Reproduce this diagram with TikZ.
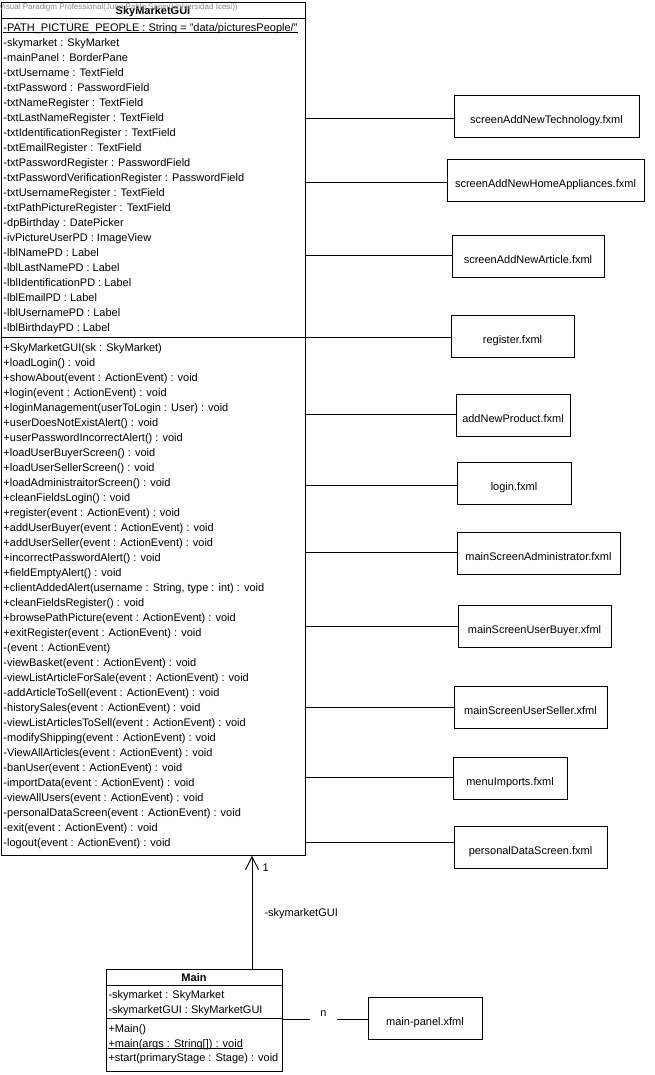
\documentclass[tikz,border=0pt]{standalone}
\usepackage{fontspec}
\setmainfont{Liberation Sans}
\usetikzlibrary{arrows.meta}
\newcommand{\umlsize}{\fontsize{8.25pt}{11.25pt}\selectfont}
\newcommand{\marksize}{\fontsize{6pt}{7pt}\selectfont}
\definecolor{markgray}{RGB}{140,140,140}

\begin{document}
\begin{tikzpicture}[x=0.75pt,y=-0.75pt,line width=0.75pt,
  member/.style={anchor=base west,inner sep=0pt,font=\umlsize},
  classtitle/.style={anchor=base,inner sep=0pt,font=\umlsize\bfseries},
  classbox/.style={draw,inner sep=0pt},
  filebox/.style={draw,inner sep=0pt,minimum height=31.5pt,
    text height=10.5pt,text depth=0pt,font=\umlsize},
  assoc/.style={-{Straight Barb[length=9.75pt,width=9.75pt]}}]

% canvas
\fill[white] (0,0) rectangle (654,1075);
\useasboundingbox (0,0) rectangle (654,1075);

% ---------- class SkyMarketGUI ----------
\node[classbox,minimum width=228pt,minimum height=639.75pt] (gui) at (153,428.5) {};
\draw (1,18) -- (305,18);
\draw (1,337) -- (305,337);
\node[classtitle] (guititle) at (153,14.5) {SkyMarketGUI};
\node[anchor=base west,inner sep=0pt,font=\marksize,text=markgray] (mark) at (-1.5,9.5)
  {Visual Paradigm Professional(Juan Pablo Sanin(Universidad Icesi))};

% static attribute
\node[member] (ga0) at (3,31.5) {-PATH\_PICTURE\_PEOPLE : String = "data/picturesPeople/"};
\draw ([yshift=-1.1pt]ga0.base west) -- ([yshift=-1.1pt]ga0.base east);

% attributes
\foreach \t [count=\i] in {
  {-skymarket : SkyMarket},
  {-mainPanel : BorderPane},
  {-txtUsername : TextField},
  {-txtPassword : PasswordField},
  {-txtNameRegister : TextField},
  {-txtLastNameRegister : TextField},
  {-txtIdentificationRegister : TextField},
  {-txtEmailRegister : TextField},
  {-txtPasswordRegister : PasswordField},
  {-txtPasswordVerificationRegister : PasswordField},
  {-txtUsernameRegister : TextField},
  {-txtPathPictureRegister : TextField},
  {-dpBirthday : DatePicker},
  {-ivPictureUserPD : ImageView},
  {-lblNamePD : Label},
  {-lblLastNamePD : Label},
  {-lblIdentificationPD : Label},
  {-lblEmailPD : Label},
  {-lblUsernamePD : Label},
  {-lblBirthdayPD : Label}}
  \node[member] (ga\i) at (3,{31.5+15*\i}) {\t};

% operations
\foreach \t [count=\i from 0] in {
  {+SkyMarketGUI(sk : SkyMarket)},
  {+loadLogin() : void},
  {+showAbout(event : ActionEvent) : void},
  {+login(event : ActionEvent) : void},
  {+loginManagement(userToLogin : User) : void},
  {+userDoesNotExistAlert() : void},
  {+userPasswordIncorrectAlert() : void},
  {+loadUserBuyerScreen() : void},
  {+loadUserSellerScreen() : void},
  {+loadAdministraitorScreen() : void},
  {+cleanFieldsLogin() : void},
  {+register(event : ActionEvent) : void},
  {+addUserBuyer(event : ActionEvent) : void},
  {+addUserSeller(event : ActionEvent) : void},
  {+incorrectPasswordAlert() : void},
  {+fieldEmptyAlert() : void},
  {+clientAddedAlert(username : String, type : int) : void},
  {+cleanFieldsRegister() : void},
  {+browsePathPicture(event : ActionEvent) : void},
  {+exitRegister(event : ActionEvent) : void},
  {-(event : ActionEvent)},
  {-viewBasket(event : ActionEvent) : void},
  {-viewListArticleForSale(event : ActionEvent) : void},
  {-addArticleToSell(event : ActionEvent) : void},
  {-historySales(event : ActionEvent) : void},
  {-viewListArticlesToSell(event : ActionEvent) : void},
  {-modifyShipping(event : ActionEvent) : void},
  {-ViewAllArticles(event : ActionEvent) : void},
  {-banUser(event : ActionEvent) : void},
  {-importData(event : ActionEvent) : void},
  {-viewAllUsers(event : ActionEvent) : void},
  {-personalDataScreen(event : ActionEvent) : void},
  {-exit(event : ActionEvent) : void},
  {-logout(event : ActionEvent) : void}}
  \node[member] (gm\i) at (3,{351+15*\i}) {\t};

% ---------- view files, each tied to SkyMarketGUI ----------
\foreach \n/\cx/\cy/\w/\ly/\t in {
  tech/546.5/116/185/118/screenAddNewTechnology.fxml,
  home/545.5/180/197/182/screenAddNewHomeAppliances.fxml,
  article/528/256.5/152/255/screenAddNewArticle.fxml,
  reg/512.5/336/123/337/register.fxml,
  product/513/415/114/414/addNewProduct.fxml,
  login/514/483.5/114/485/login.fxml,
  admin/538.5/553/163/552/mainScreenAdministrator.fxml,
  buyer/534.5/626.5/153/626/mainScreenUserBuyer.xfml,
  seller/530.5/707.5/153/707/mainScreenUserSeller.xfml,
  imports/510/778/114/777/menuImports.fxml,
  personal/530.5/847.5/153/842/personalDataScreen.fxml}
{
  \node[filebox,minimum width=\w*0.75pt] (\n) at (\cx,\cy) {\t};
  \coordinate (\n-y) at (0,\ly);
  \draw (gui.east |- \n-y) -- (\n.west |- \n-y);
}

% ---------- class Main ----------
\node[classbox,minimum width=132pt,minimum height=76.5pt] (main) at (194,1020) {};
\draw (106,985) -- (282,985);
\draw (106,1018) -- (282,1018);
\node[classtitle] (maintitle) at (194,981) {Main};
\node[member] (ma1) at (108,998) {-skymarket : SkyMarket};
\node[member] (ma2) at (108,1013) {-skymarketGUI : SkyMarketGUI};
\node[member] (mm1) at (108,1032.5) {+Main()};
\node[member] (mm2) at (108,1047) {+main(args : String[]) : void};
\draw ([yshift=-1.3pt]mm2.base west) -- ([yshift=-1.3pt]mm2.base east);
\node[member] (mm3) at (108,1061.5) {+start(primaryStage : Stage) : void};

% association Main -> SkyMarketGUI
\coordinate (ax) at (252,0);
\draw[assoc] (main.north -| ax) -- (gui.south -| ax);
\node[member] (mult1) at (262,871) {1};
\node[member] (role) at (264,916.5) {-skymarketGUI};

% Main -- main-panel
\node[filebox,minimum width=85.5pt] (mp) at (425,1018.5) {main-panel.xfml};
\coordinate (mp-y) at (0,1019);
\draw (main.east |- mp-y) -- (mp.west |- mp-y);
\node[anchor=base,fill=white,inner xsep=8pt,inner ysep=3pt,font=\umlsize] (multn) at (323.5,1016) {n};

\end{tikzpicture}
\end{document}
